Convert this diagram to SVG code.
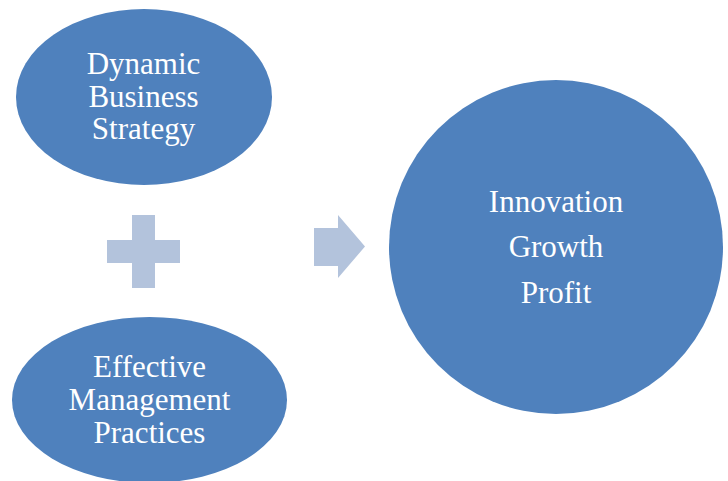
<svg xmlns="http://www.w3.org/2000/svg" width="728" height="481" viewBox="0 0 728 481">
<style>
.node{fill:#4F81BD;}
.sym{fill:#B3C3DC;}
.lbl{fill:#FFFFFF;font-family:"Liberation Serif","Times New Roman",serif;font-size:31px;text-anchor:middle;}
</style>
<rect width="728" height="481" fill="#FFFFFF"/>
<g id="node-strategy">
<ellipse class="node" cx="144" cy="97" rx="128" ry="88"/>
<text class="lbl"><tspan x="143.5" y="74">Dynamic</tspan><tspan x="143.5" y="107">Business</tspan><tspan x="143.5" y="139">Strategy</tspan></text>
</g>
<g id="node-management">
<ellipse class="node" cx="149.5" cy="400" rx="137.5" ry="83"/>
<text class="lbl"><tspan x="149.5" y="377">Effective</tspan><tspan x="149.5" y="410">Management</tspan><tspan x="149.5" y="443">Practices</tspan></text>
</g>
<g id="node-outcome">
<circle class="node" cx="556" cy="247" r="167"/>
<text class="lbl"><tspan x="556" y="212">Innovation</tspan><tspan x="556" y="257">Growth</tspan><tspan x="556" y="303">Profit</tspan></text>
</g>
<g id="connectors">
<path class="sym" d="M132,215 H155 V240 H180 V263 H155 V288 H132 V263 H107 V240 H132 Z"/>
<path class="sym" d="M314,228 H338 V215 L365,246.5 L338,278 V266 H314 Z"/>
</g>
</svg>
